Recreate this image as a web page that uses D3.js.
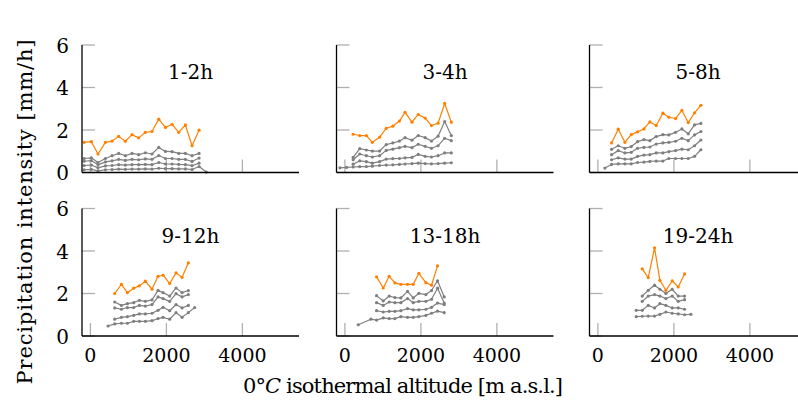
<!DOCTYPE html>
<html>
<head>
<meta charset="utf-8">
<script src="https://cdn.jsdelivr.net/npm/d3@7"></script>
<style>
  body { margin: 0; background: #fff; }
</style>
</head>
<body>
<script>
var width = 798, height = 409;

// panel titles and ticks
var titles = ["1-2h", "3-4h", "5-8h", "9-12h", "13-18h", "19-24h"];
var yTicks = [0, 2, 4, 6];
var xTicks = [0, 2000, 4000];

// 1-2h
var x1 = [-165, 25, 200, 395, 570, 745, 920, 1095, 1270, 1445, 1620, 1800, 1975, 2150, 2325, 2500, 2675, 2860, 3050];
var orange1 = [1.42, 1.45, 0.87, 1.42, 1.48, 1.70, 1.47, 1.78, 1.63, 1.89, 1.93, 2.51, 2.12, 2.27, 1.89, 2.24, 1.26, 1.99, null];
var grey1 = [
  [0.66, 0.69, 0.47, 0.66, 0.79, 0.90, 0.79, 0.90, 0.84, 0.93, 0.87, 1.18, 0.99, 0.98, 0.90, 0.90, 0.79, 0.90, null],
  [0.53, 0.56, 0.36, 0.50, 0.55, 0.62, 0.57, 0.62, 0.60, 0.64, 0.62, 0.80, 0.66, 0.66, 0.62, 0.62, 0.52, 0.68, null],
  [0.33, 0.35, 0.22, 0.31, 0.33, 0.37, 0.35, 0.37, 0.37, 0.38, 0.37, 0.47, 0.40, 0.40, 0.38, 0.37, 0.32, 0.44, null],
  [0.13, 0.15, 0.08, 0.13, 0.14, 0.16, 0.15, 0.16, 0.16, 0.17, 0.16, 0.20, 0.18, 0.18, 0.17, 0.17, 0.14, 0.28, 0.02]
];

// 3-4h
var x2 = [-130, 45, 217, 391, 565, 722, 913, 1087, 1261, 1435, 1583, 1765, 1930, 2113, 2278, 2452, 2626, 2800];
var orange2 = [null, null, 1.80, 1.74, 1.74, 1.42, 1.66, 2.08, 2.18, 2.42, 2.83, 2.37, 2.73, 2.56, 2.21, 2.32, 3.25, 2.37];
var grey2 = [
  [null, null, 0.71, 1.12, 1.06, 1.01, 1.01, 1.31, 1.39, 1.48, 1.64, 1.52, 1.74, 1.64, 1.48, 1.71, 2.40, 1.74],
  [null, null, 0.60, 0.87, 0.79, 0.73, 0.79, 1.04, 1.10, 1.17, 1.23, 1.17, 1.33, 1.23, 1.14, 1.26, 1.61, 1.50],
  [null, null, 0.39, 0.55, 0.51, 0.44, 0.51, 0.63, 0.65, 0.66, 0.69, 0.71, 0.85, 0.76, 0.73, 0.79, 0.92, 0.92],
  [0.22, 0.24, 0.26, 0.28, 0.28, 0.30, 0.33, 0.35, 0.36, 0.38, 0.40, 0.42, 0.44, 0.42, 0.41, 0.42, 0.44, 0.46]
];

// 5-8h
var x3 = [185, 360, 535, 711, 877, 1044, 1211, 1368, 1535, 1711, 1868, 2044, 2211, 2377, 2544, 2711];
var orange3 = [null, 1.39, 2.04, 1.42, 1.78, 1.91, 2.05, 2.38, 2.21, 2.79, 2.60, 2.54, 2.92, 2.35, 2.81, 3.16];
var grey3 = [
  [null, 1.09, 1.26, 1.14, 1.22, 1.45, 1.55, 1.50, 1.69, 1.78, 1.77, 1.89, 2.05, 1.82, 2.24, 2.31],
  [null, 0.84, 1.03, 0.92, 0.95, 1.14, 1.18, 1.20, 1.34, 1.39, 1.42, 1.47, 1.61, 1.50, 1.77, 1.93],
  [null, 0.60, 0.69, 0.63, 0.63, 0.76, 0.82, 0.84, 0.92, 0.92, 0.98, 1.03, 1.10, 1.07, 1.26, 1.53],
  [0.21, 0.38, 0.41, 0.41, 0.41, 0.47, 0.49, 0.52, 0.54, 0.54, 0.66, 0.66, 0.66, 0.66, 0.76, 1.07]
];

// 9-12h
var x4 = [465, 640, 816, 973, 1140, 1289, 1447, 1622, 1780, 1912, 2087, 2254, 2412, 2578, 2745];
var orange4 = [null, 2.00, 2.43, 2.04, 2.25, 2.36, 2.58, 2.20, 2.81, 2.86, 2.47, 2.97, 2.76, 3.44, null];
var grey4 = [
  [null, 1.60, 1.44, 1.52, 1.57, 1.68, 1.63, 1.70, 2.15, 2.04, 1.88, 2.26, 2.04, 2.14, null],
  [null, 1.32, 1.26, 1.34, 1.34, 1.44, 1.41, 1.48, 1.84, 1.76, 1.63, 1.99, 1.84, 1.95, null],
  [null, 0.79, 0.88, 0.91, 0.97, 1.04, 1.04, 1.07, 1.21, 1.35, 1.19, 1.48, 1.32, 1.44, null],
  [0.47, 0.57, 0.60, 0.60, 0.69, 0.69, 0.69, 0.72, 0.82, 0.88, 0.79, 1.10, 0.88, 1.10, 1.34]
];

// 13-18h
var x5 = [351, 684, 833, 1009, 1166, 1316, 1473, 1649, 1798, 1947, 2131, 2280, 2438, 2614];
var orange5 = [null, null, 2.78, 2.26, 2.81, 2.50, 2.43, 2.43, 2.43, 2.95, 2.51, 2.39, 3.30, null];
var grey5 = [
  [null, null, 1.90, 1.65, 1.88, 1.81, 1.79, 2.10, 1.79, 2.01, 1.95, 2.14, 2.60, 1.84],
  [null, null, 1.57, 1.44, 1.60, 1.57, 1.57, 1.76, 1.57, 1.63, 1.63, 1.73, 2.25, 1.55],
  [null, null, 1.19, 1.13, 1.16, 1.16, 1.19, 1.29, 1.23, 1.23, 1.26, 1.35, 1.55, 1.48],
  [0.53, 0.79, 0.75, 0.85, 0.82, 0.82, 0.91, 0.88, 0.88, 0.91, 0.97, 1.07, 1.17, 1.10]
];

// 19-24h
var x6 = [1009, 1167, 1325, 1491, 1632, 1790, 1956, 2114, 2281, 2447];
var orange6 = [null, 3.16, 2.75, 4.15, 2.62, 2.15, 2.59, 2.31, 2.92, null];
var grey6 = [
  [null, 1.88, 2.15, 2.39, 2.20, 2.00, 2.20, 1.88, 1.88, null],
  [null, 1.63, 1.88, 1.95, 1.88, 1.76, 1.88, 1.63, 1.71, null],
  [1.21, 1.21, 1.44, 1.32, 1.52, 1.44, 1.32, 1.32, 1.26, null],
  [0.91, 0.93, 0.94, 0.94, 1.02, 1.13, 1.07, 1.04, 1.00, 1.02]
];

var panels = [
  {x: x1, orange: orange1, grey: grey1},
  {x: x2, orange: orange2, grey: grey2},
  {x: x3, orange: orange3, grey: grey3},
  {x: x4, orange: orange4, grey: grey4},
  {x: x5, orange: orange5, grey: grey5},
  {x: x6, orange: orange6, grey: grey6}
];

var colX = [82, 336.5, 589.5],
    rowY = [45, 208.5],
    pw = 217,
    ph = 127.5,
    tickLen = 13;

var ORANGE = "#ff8000", GREY = "#7f7f7f", TICK = "#b0b0b0";
var FONT = "'DejaVu Serif', serif";

var svg = d3.select("body").append("svg")
    .attr("width", width)
    .attr("height", height)
    .attr("font-family", FONT);

var xScale = d3.scaleLinear().domain([-221, 5490]).range([0, pw]);
var yScale = d3.scaleLinear().domain([0, 6]).range([ph, 0]);

panels.forEach(function(p, i){
  var col = i % 3, row = Math.floor(i / 3);
  var g = svg.append("g")
      .attr("transform", "translate(" + colX[col] + "," + rowY[row] + ")");

  // ticks (drawn inside the axes, light grey)
  g.selectAll(".ytick").data(yTicks).enter().append("line")
      .attr("x1", 0).attr("x2", tickLen)
      .attr("y1", function(d){ return yScale(d); })
      .attr("y2", function(d){ return yScale(d); })
      .attr("stroke", TICK).attr("stroke-width", 1.3);
  g.selectAll(".xtick").data(xTicks).enter().append("line")
      .attr("x1", function(d){ return xScale(d); })
      .attr("x2", function(d){ return xScale(d); })
      .attr("y1", ph).attr("y2", ph - tickLen)
      .attr("stroke", TICK).attr("stroke-width", 1.3);

  // data
  var series = p.grey.map(function(s){ return {vals: s, color: GREY}; });
  series.push({vals: p.orange, color: ORANGE});

  series.forEach(function(s){
    var pts = p.x.map(function(xv, k){ return [xv, s.vals[k]]; })
        .filter(function(d){ return d[1] != null; });
    var line = d3.line()
        .x(function(d){ return xScale(d[0]); })
        .y(function(d){ return yScale(d[1]); });
    g.append("path")
        .attr("d", line(pts))
        .attr("fill", "none")
        .attr("stroke", s.color)
        .attr("stroke-width", 1.2)
        .attr("stroke-linejoin", "round");
    g.selectAll(null).data(pts).enter().append("circle")
        .attr("cx", function(d){ return xScale(d[0]); })
        .attr("cy", function(d){ return yScale(d[1]); })
        .attr("r", 1.6)
        .attr("fill", s.color);
  });

  // axis lines: left and bottom only
  g.append("line").attr("x1", 0).attr("x2", 0).attr("y1", 0).attr("y2", ph)
      .attr("stroke", "#000").attr("stroke-width", 1.3);
  g.append("line").attr("x1", 0).attr("x2", pw).attr("y1", ph).attr("y2", ph)
      .attr("stroke", "#000").attr("stroke-width", 1.3);

  // title
  g.append("text")
      .attr("x", pw / 2).attr("y", 34)
      .attr("text-anchor", "middle")
      .attr("font-size", 20)
      .text(titles[i]);

  // tick labels only on the outer panels
  if (col == 0) {
    g.selectAll(".ylab").data(yTicks).enter().append("text")
        .attr("x", -13)
        .attr("y", function(d){ return yScale(d) + 7.5; })
        .attr("text-anchor", "end")
        .attr("font-size", 20)
        .text(function(d){ return d; });
  }
  if (row == 1) {
    g.selectAll(".xlab").data(xTicks).enter().append("text")
        .attr("x", function(d){ return xScale(d); })
        .attr("y", ph + 26)
        .attr("text-anchor", "middle")
        .attr("font-size", 19)
        .text(function(d){ return d; });
  }
});

// axis titles
svg.append("text")
    .attr("transform", "translate(32,212) rotate(-90)")
    .attr("text-anchor", "middle")
    .attr("textLength", 345)
    .attr("font-size", 21)
    .text("Precipitation intensity [mm/h]");

var xl = svg.append("text")
    .attr("x", 403).attr("y", 393)
    .attr("text-anchor", "middle")
    .attr("textLength", 320)
    .attr("font-size", 21);
xl.append("tspan").text("0°");
xl.append("tspan").attr("font-style", "italic").text("C");
xl.append("tspan").text(" isothermal altitude [m a.s.l.]");
</script>
</body>
</html>
